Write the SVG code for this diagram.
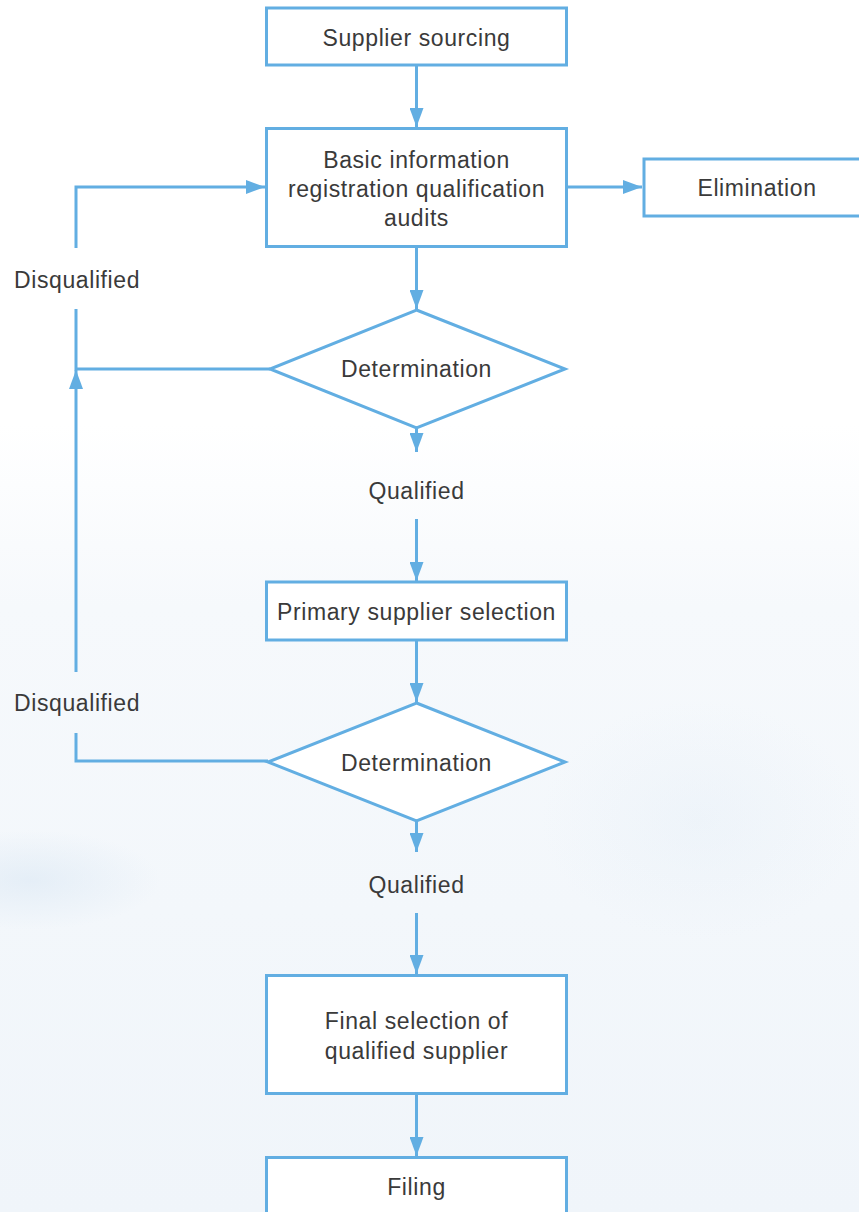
<svg xmlns="http://www.w3.org/2000/svg" width="859" height="1212" viewBox="0 0 859 1212">
<defs>
<style>
.box{fill:#ffffff;stroke:#62aee2;stroke-width:3}
.ln{fill:none;stroke:#62aee2;stroke-width:3}
.t{font-family:"Liberation Sans",Arial,sans-serif;font-size:23px;letter-spacing:0.6px;fill:#3a3a3a;text-anchor:middle;dominant-baseline:central}
.tl{text-anchor:start}
</style>
<marker id="ah" markerUnits="userSpaceOnUse" markerWidth="20" markerHeight="14" refX="19" refY="7" orient="auto">
<path d="M0,0 L19,7 L0,14 z" fill="#62aee2"/>
</marker>
<linearGradient id="bg" x1="0" y1="0" x2="0" y2="1">
<stop offset="0" stop-color="#ffffff"/>
<stop offset="0.35" stop-color="#ffffff"/>
<stop offset="0.5" stop-color="#f6f9fc"/>
<stop offset="1" stop-color="#f0f5fa"/>
</linearGradient>
<radialGradient id="blob" cx="0.5" cy="0.5" r="0.5">
<stop offset="0" stop-color="#dbe8f4" stop-opacity="0.6"/>
<stop offset="1" stop-color="#dbe8f4" stop-opacity="0"/>
</radialGradient>
</defs>
<rect x="0" y="0" width="859" height="1212" fill="url(#bg)"/>
<ellipse cx="30" cy="880" rx="130" ry="50" fill="url(#blob)"/>
<ellipse cx="700" cy="820" rx="160" ry="120" fill="url(#blob)" opacity="0.4"/>

<g id="connectors">
<path class="ln" d="M416.5,65 V127" marker-end="url(#ah)"/>
<path class="ln" d="M567,187 H642" marker-end="url(#ah)"/>
<path class="ln" d="M416.5,247 V309" marker-end="url(#ah)"/>
<path class="ln" d="M270,369 H76 V309"/>
<path class="ln" d="M76,248 V187 H265" marker-end="url(#ah)"/>
<path class="ln" d="M416.5,428 V452" marker-end="url(#ah)"/>
<path class="ln" d="M416.5,519 V581" marker-end="url(#ah)"/>
<path class="ln" d="M416.5,640 V702" marker-end="url(#ah)"/>
<path class="ln" d="M268,761 H76 V733"/>
<path class="ln" d="M76,672 V370" marker-end="url(#ah)"/>
<path class="ln" d="M416.5,821 V852" marker-end="url(#ah)"/>
<path class="ln" d="M416.5,913 V974" marker-end="url(#ah)"/>
<path class="ln" d="M416.5,1094 V1156" marker-end="url(#ah)"/>
</g>

<g id="n-sourcing">
<rect class="box" x="266.5" y="8" width="300" height="57"/>
<text class="t" x="416.5" y="38">Supplier sourcing</text>
</g>
<g id="n-basic">
<rect class="box" x="266.5" y="128.5" width="300" height="118"/>
<text class="t" x="416.5" y="160">Basic information</text>
<text class="t" x="416.5" y="189">registration qualification</text>
<text class="t" x="416.5" y="218">audits</text>
</g>
<g id="n-elimination">
<rect class="box" x="644" y="159" width="230" height="57"/>
<text class="t" x="757" y="188">Elimination</text>
</g>
<g id="n-det1">
<polygon class="box" points="416.5,310 565,369 416.5,428 270,369"/>
<text class="t" x="416.5" y="369">Determination</text>
</g>
<g id="l-disq1">
<text class="t tl" x="14" y="280">Disqualified</text>
</g>
<g id="l-qual1">
<text class="t" x="416.5" y="491">Qualified</text>
</g>
<g id="n-primary">
<rect class="box" x="266.5" y="582" width="300" height="58"/>
<text class="t" x="416.5" y="612">Primary supplier selection</text>
</g>
<g id="n-det2">
<polygon class="box" points="416.5,703 565,762 416.5,821 268,762"/>
<text class="t" x="416.5" y="763">Determination</text>
</g>
<g id="l-disq2">
<text class="t tl" x="14" y="703">Disqualified</text>
</g>
<g id="l-qual2">
<text class="t" x="416.5" y="885">Qualified</text>
</g>
<g id="n-final">
<rect class="box" x="266.5" y="975.5" width="300" height="118"/>
<text class="t" x="416.5" y="1021">Final selection of</text>
<text class="t" x="416.5" y="1051">qualified supplier</text>
</g>
<g id="n-filing">
<rect class="box" x="266.5" y="1157.5" width="300" height="70"/>
<text class="t" x="416.5" y="1187">Filing</text>
</g>
</svg>
